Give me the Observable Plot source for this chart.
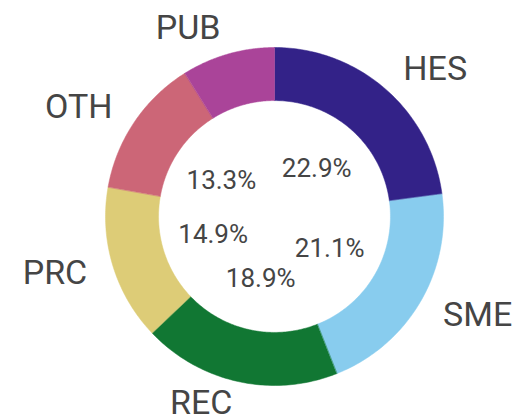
<!DOCTYPE html>
<html>
<head>
<meta charset="utf-8">
<script src="https://cdn.jsdelivr.net/npm/d3@7"></script>
<script src="https://cdn.jsdelivr.net/npm/@observablehq/plot@0.6"></script>
<style>
  html, body { margin: 0; padding: 0; background: #fff; }
  #chart svg { display: block; }
</style>
</head>
<body>
<div id="chart"></div>
<script>
// Data
const categories = ["HES", "SME", "REC", "PRC", "OTH", "PUB"];
const shares = [22.9, 21.1, 18.9, 14.9, 13.3, 8.9];
const percentLabels = ["22.9%", "21.1%", "18.9%", "14.9%", "13.3%", ""];
const colors = ["#332288", "#88CCEE", "#117733", "#DDCC77", "#CC6677", "#AA4499"];

// Geometry (relative units, outer radius = 1)
const innerR = 0.686;
const pctR = 0.379;
const labelR = 1.157;

const pie = d3.pie().sort(null).value(d => d)(shares);
const slices = pie.map((p, i) => ({
  key: categories[i],
  start: p.startAngle,
  end: p.endAngle,
  mid: (p.startAngle + p.endAngle) / 2,
  pct: percentLabels[i]
}));

// Ring polygons built from the pie angles
const ringPts = [];
for (const s of slices) {
  const n = 80;
  for (let k = 0; k <= n; k++) {
    const a = s.start + (s.end - s.start) * k / n;
    ringPts.push({key: s.key, x: Math.sin(a), y: Math.cos(a)});
  }
  for (let k = n; k >= 0; k--) {
    const a = s.start + (s.end - s.start) * k / n;
    ringPts.push({key: s.key, x: innerR * Math.sin(a), y: innerR * Math.cos(a)});
  }
}

const bottom = s => Math.cos(s.mid) < -0.9;
const right = slices.filter(s => Math.sin(s.mid) >= 0 && !bottom(s));
const left = slices.filter(s => Math.sin(s.mid) < 0 && !bottom(s));
const low = slices.filter(bottom);

const labelOpts = (anchor, dy) => ({
  x: s => labelR * Math.sin(s.mid),
  y: s => labelR * Math.cos(s.mid),
  text: "key",
  fontSize: 34,
  fill: "#454545",
  textAnchor: anchor,
  lineAnchor: "middle",
  dy
});

const chart = Plot.plot({
  width: 512,
  height: 415,
  marginLeft: 105,
  marginRight: 69,
  marginTop: 47,
  marginBottom: 30,
  x: {domain: [-1, 1], axis: null},
  y: {domain: [-1, 1], axis: null},
  color: {domain: categories, range: colors},
  style: {fontFamily: "Roboto, sans-serif", background: "#fff", overflow: "visible"},
  marks: [
    Plot.line(ringPts, {x: "x", y: "y", z: "key", fill: "key", stroke: "key", strokeWidth: 0.5, curve: "linear-closed"}),
    Plot.text(slices.filter(s => s.pct), {
      x: s => pctR * Math.sin(s.mid),
      y: s => pctR * Math.cos(s.mid),
      text: "pct",
      fontSize: 26,
      fill: "#454545",
      textAnchor: "middle",
      lineAnchor: "middle"
    }),
    Plot.text(right, labelOpts("start", 0)),
    Plot.text(left, labelOpts("end", 0)),
    Plot.text(low, labelOpts("end", -4))
  ]
});
document.getElementById("chart").appendChild(chart);
</script>
</body>
</html>
